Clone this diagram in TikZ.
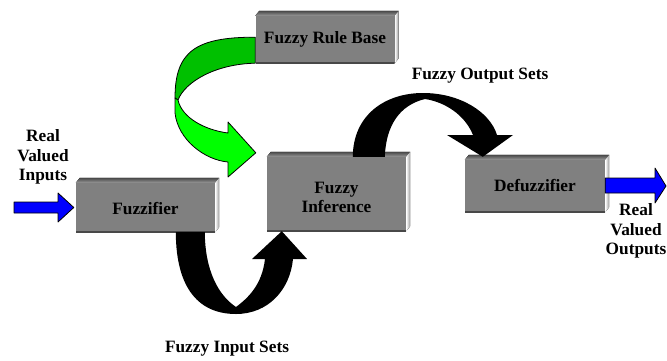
\documentclass[tikz,border=0pt]{standalone}
\usepackage{fontspec}
\setmainfont{Liberation Serif}
\usetikzlibrary{positioning,calc}

\definecolor{boxface}{HTML}{808080}
\definecolor{boxedge}{HTML}{484848}
\definecolor{boxtop}{HTML}{989898}
\definecolor{ruledark}{HTML}{00C000}
\definecolor{rulelight}{HTML}{00FF00}
\definecolor{ioblue}{HTML}{0000FF}

\newcommand{\blockfont}{\fontsize{17.3}{19.5}\selectfont\bfseries}
% drop the text of a block a little without changing its box
\newcommand{\lowered}[2]{\raisebox{-#1}[\height][\depth]{\begin{tabular}{@{}c@{}}#2\end{tabular}}}

\tikzset{
  block/.style={fill=boxface, inner sep=0pt, minimum width=139pt, align=center, font=\blockfont,
    path picture={
      \draw[boxedge, line width=3pt]
        (path picture bounding box.south west) -- (path picture bounding box.south east);
    },
    append after command={\pgfextra{\edef\blk{\tikzlastnode}\begin{pgfinterruptpath}
      % top and right faces of the box
      \fill[top color=boxedge, bottom color=boxtop]
        (\blk.north west) -- ++(4pt,5pt) -- ([shift={(4pt,5pt)}]\blk.north east) -- (\blk.north east) -- cycle;
      \fill[left color=white, right color=boxtop]
        (\blk.north east) -- ++(4pt,5pt) -- ([shift={(4pt,5pt)}]\blk.south east) -- (\blk.south east) -- cycle;
    \end{pgfinterruptpath}}}},
  lbl/.style={font=\blockfont, align=center, inner sep=0pt},
  ribbon/.style={draw=black, line width=0.8pt, line join=round},
}

\begin{document}
\begin{tikzpicture}[x=1pt, y=-1pt]
	\useasboundingbox (0,0) rectangle (667,360);

	\node[block, minimum height=47pt] (rule)  at (325,39.5)  {Fuzzy Rule Base};
	\node[block, minimum height=49pt] (fuzz)  at (145.5,207.5) {\lowered{3pt}{Fuzzifier}};
	\node[block, minimum height=74pt] (infer) at (336.5,194) {\lowered{5pt}{Fuzzy\\Inference}};
	\node[block, minimum height=52pt, minimum width=140pt] (defz) at (535,186) {Defuzzifier};

	\node[lbl] (inlbl)   at (43,157)  {Real\\Valued\\Inputs};
	\node[lbl] (outlbl)  at (636,231) {Real\\Valued\\Outputs};
	\node[lbl] (outsets) at (480,76)  {Fuzzy Output Sets};
	\node[lbl] (insets)  at (227,349) {Fuzzy Input Sets};

	\coordinate (insrc)  at (14,207.5);
	\coordinate (outtip) at (666,186);

	% crisp input and output
	\filldraw[ribbon, fill=ioblue] (insrc) ++(0,-5.5) -- (58,202) -- (58,193) -- ([xshift=-2pt]fuzz.west)
		-- (58,222) -- (58,213) -- (14,213) -- cycle;
	\filldraw[ribbon, fill=ioblue] ([yshift=8pt]defz.east) -- (655,178) -- (655,168) -- (outtip)
		-- (655,203) -- (655,193) -- ([yshift=-7pt]defz.east) -- cycle;

	% rule base feeding the inference engine
	\filldraw[ribbon, fill=ruledark] ([yshift=26pt]rule.south west) .. controls (195,37) and (175,52) .. (175,98)
		-- (178,100) .. controls (185,82) and (215,64) .. (rule.south west) -- cycle;
	\filldraw[ribbon, fill=rulelight] (175,98) -- (175,113) .. controls (178,140) and (205,160) .. (228,162)
		-- (228,177) -- ([xshift=-11pt,yshift=4pt]infer.north west) -- (228,122) -- (228,133)
		.. controls (205,130) and (182,118) .. (178,100) -- cycle;

	% fuzzy input sets
	\fill[black] ([xshift=100pt]fuzz.south west) .. controls (176,290) and (200,314) .. (236,314)
		.. controls (268,314) and (290,290) .. (293,259) -- (307,259) -- ([xshift=15pt]infer.south west)
		-- (252,259) -- (265,259) .. controls (262,285) and (248,298) .. (236,307)
		.. controls (218,295) and (205,270) .. ([xshift=129pt]fuzz.south west) -- cycle;

	% fuzzy output sets
	\fill[black] ([xshift=86pt]infer.north west) .. controls (353,115) and (385,93) .. (423,93)
		.. controls (460,93) and (490,112) .. (497,135) -- (513,135) -- ([xshift=18pt,yshift=3pt]defz.north west)
		-- (447,135) -- (473,135) .. controls (465,115) and (445,102) .. (425,99)
		.. controls (400,105) and (386,125) .. ([xshift=118pt]infer.north west) -- cycle;
\end{tikzpicture}
\end{document}
